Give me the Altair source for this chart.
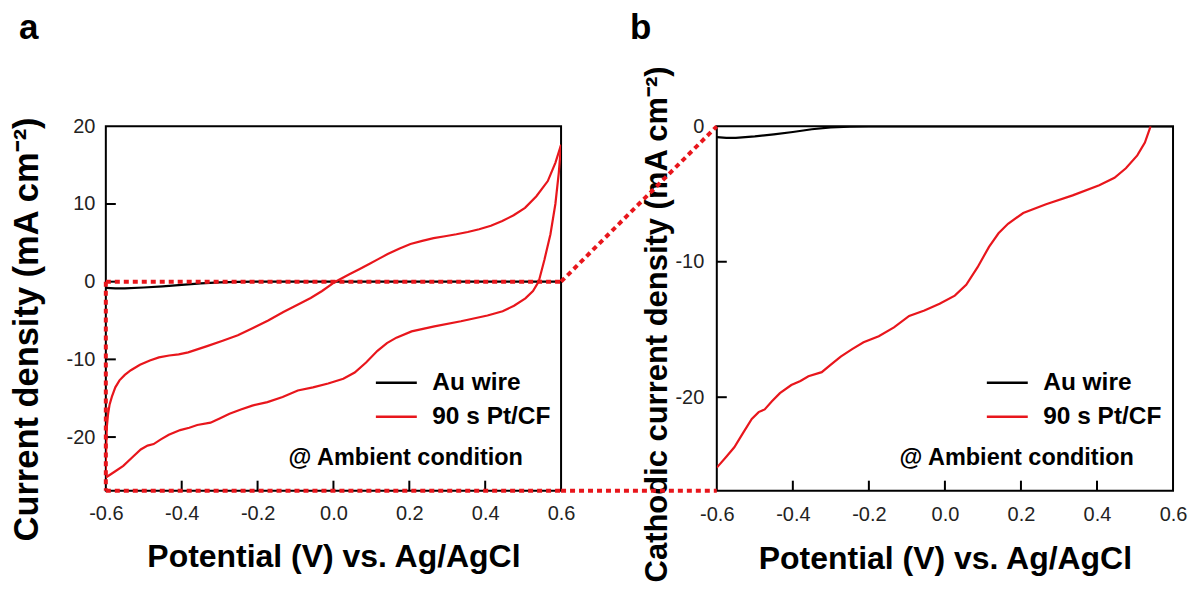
import altair as alt
import pandas as pd

# ---------------- data ----------------
# 90 s Pt/CF, cathodic-to-anodic (lower) branch
pot_lower = [-0.600, -0.575, -0.554, -0.530, -0.508, -0.490, -0.474, -0.455, -0.434, -0.404,
             -0.380, -0.359, -0.324, -0.300, -0.274, -0.244, -0.214, -0.174, -0.134, -0.094,
             -0.054, -0.014, 0.026, 0.056, 0.086, 0.116, 0.141, 0.166, 0.206, 0.266,
             0.336, 0.406, 0.446, 0.476, 0.506, 0.526, 0.541, 0.556, 0.572, 0.585,
             0.594, 0.600]
cur_lower = [-25.2, -24.4, -23.7, -22.6, -21.6, -21.1, -20.9, -20.3, -19.7, -19.1,
             -18.8, -18.45, -18.15, -17.6, -17.0, -16.45, -15.95, -15.5, -14.85, -14.0,
             -13.6, -13.1, -12.5, -11.7, -10.4, -8.9, -7.9, -7.2, -6.4, -5.75,
             -5.1, -4.35, -3.8, -3.1, -2.15, -1.2, 0.0, 2.8, 6.1, 10.0,
             14.0, 17.6]
# 90 s Pt/CF, return (upper) branch
pot_upper = [0.600, 0.585, 0.565, 0.535, 0.505, 0.475, 0.445, 0.415, 0.384, 0.354,
             0.324, 0.294, 0.264, 0.234, 0.203, 0.173, 0.143, 0.118, 0.093, 0.068,
             0.042, 0.005, -0.030, -0.060, -0.092, -0.132, -0.172, -0.212, -0.252, -0.292,
             -0.333, -0.383, -0.408, -0.433, -0.460, -0.484, -0.510, -0.534, -0.550, -0.564,
             -0.575, -0.584, -0.590, -0.594, -0.597, -0.598, -0.599, -0.600, -0.600]
cur_upper = [17.6, 15.3, 12.95, 11.0, 9.5, 8.55, 7.8, 7.2, 6.75, 6.4,
             6.1, 5.85, 5.6, 5.25, 4.85, 4.25, 3.55, 2.9, 2.25, 1.6,
             0.95, 0.0, -1.2, -2.1, -2.9, -3.9, -5.0, -5.95, -6.9, -7.6,
             -8.3, -9.1, -9.35, -9.5, -9.75, -10.15, -10.7, -11.4, -12.0, -12.7,
             -13.6, -14.8, -15.8, -17.0, -18.5, -19.5, -21.5, -23.5, -25.2]
# Au wire
pot_au = [-0.600, -0.575, -0.550, -0.500, -0.450, -0.400, -0.350, -0.300, -0.250, -0.200,
          0.000, 0.200, 0.400, 0.600]
cur_au = [-0.80, -0.85, -0.85, -0.75, -0.60, -0.42, -0.22, -0.08, -0.02, 0.0,
          0.0, 0.0, 0.0, 0.0]

SERIES = ["Au wire", "90 s Pt/CF"]
COLORS = ["#000000", "#e8161c"]
RED = "#e8161c"

X_TICKS = [-0.6, -0.4, -0.2, 0.0, 0.2, 0.4, 0.6]
X_INNER = [-0.4, -0.2, 0.0, 0.2, 0.4]
YA_TICKS = [20, 10, 0, -10, -20]
YA_INNER = [10, 0, -10, -20]
YB_TICKS = [0, -10, -20]
YB_INNER = [-10, -20]
X_DOM = [-0.6, 0.6]
YMIN = -26.9
YA_DOM = [YMIN, 20]
YB_DOM = [YMIN, 0]

X_TITLE = "Potential (V) vs. Ag/AgCl"
YA_TITLE = "Current density (mA cm⁻²)"
YB_TITLE = "Cathodic current density (mA cm⁻²)"
NOTE = "@ Ambient condition"

# ---------------- layout constants ----------------
WA, WB, H = 456, 457, 365
GAP = 156
TICK = 10
FONT = "Liberation Sans"

minus_fix = "replace(datum.label, '\u2212', '-')"


def table(pots, curs, series, branch):
    return pd.DataFrame({"potential": pots, "current": curs, "series": series,
                         "branch": branch, "i": list(range(len(pots)))})


df_a = pd.concat([
    table(pot_au, cur_au, "Au wire", "au"),
    table(pot_lower, cur_lower, "90 s Pt/CF", "lower"),
    table(pot_upper, cur_upper, "90 s Pt/CF", "upper"),
], ignore_index=True)

low_b = [(p, c) for p, c in zip(pot_lower, cur_lower) if c <= 0]
df_b = pd.concat([
    table(pot_au, cur_au, "Au wire", "au"),
    table([p for p, _ in low_b], [c for _, c in low_b], "90 s Pt/CF", "lower"),
], ignore_index=True)


def panel(df, w, ydom, yticks, yinner, ytitle, ytitle_size, title_pad, label_pad_y,
          title_y, xlab_pad, xtitle_pad, letter):
    xs = alt.Scale(domain=X_DOM, nice=False, zero=False)
    ys = alt.Scale(domain=ydom, nice=False, zero=False)
    xax = alt.Axis(values=X_TICKS, format=".1f", labelExpr=minus_fix,
                   title=X_TITLE, labelPadding=xlab_pad, titlePadding=xtitle_pad)
    yax = alt.Axis(values=yticks, format="d", labelExpr=minus_fix,
                   title=ytitle, titlePadding=title_pad, titleFontSize=ytitle_size,
                   labelPadding=label_pad_y, titleY=title_y)

    lines = alt.Chart(df).mark_line(strokeWidth=2.2, clip=True).encode(
        x=alt.X("potential:Q", scale=xs, axis=xax),
        y=alt.Y("current:Q", scale=ys, axis=yax),
        color=alt.Color("series:N", scale=alt.Scale(domain=SERIES, range=COLORS),
                        legend=alt.Legend(orient="none", legendX=269, legendY=235,
                                          title=None, symbolType="stroke",
                                          symbolSize=1681, symbolStrokeWidth=2.5,
                                          labelFontSize=24.5, labelFont=FONT,
                                          labelFontWeight="bold", labelColor="black",
                                          labelOffset=14, rowPadding=0, padding=0)),
        detail="branch:N",
        order="i:Q",
    )

    xt = alt.Chart(pd.DataFrame({"t": X_INNER})).mark_rule(
        color="black", strokeWidth=2).encode(
        x=alt.X("t:Q", scale=xs, axis=xax),
        y=alt.value(H), y2=alt.value(H - TICK))
    yt = alt.Chart(pd.DataFrame({"t": yinner})).mark_rule(
        color="black", strokeWidth=2).encode(
        y=alt.Y("t:Q", scale=ys, axis=yax),
        x=alt.value(0), x2=alt.value(TICK))

    one = pd.DataFrame({"k": [0]})
    note = alt.Chart(one).mark_text(
        align="left", baseline="middle", fontSize=23.5, font=FONT,
        fontWeight="bold", color="black").encode(
        x=alt.value(183), y=alt.value(332), text=alt.value(NOTE))
    lab = alt.Chart(one).mark_text(
        align="left", baseline="alphabetic", fontSize=35, font=FONT,
        fontWeight="bold", color="black").encode(
        x=alt.value(-87), y=alt.value(-87), text=alt.value(letter))

    return [lines, xt, yt, note, lab], xs, ys, xax, yax


layers_a, xs_a, ys_a, xax_a, yax_a = panel(df_a, WA, YA_DOM, YA_TICKS, YA_INNER, YA_TITLE,
                                           34.5, 22, 11, 203, 13, 18, "a")
layers_b, xs_b, ys_b, xax_b, yax_b = panel(df_b, WB, YB_DOM, YB_TICKS, YB_INNER, YB_TITLE,
                                           31, 1, 13, 198, 14, 19, "b")

# zoom box in panel a (edges of the region shown in panel b)
box = pd.DataFrame({"x0": [X_DOM[0], X_DOM[0], X_DOM[0]],
                    "x1": [X_DOM[1], X_DOM[0], X_DOM[1]],
                    "y0": [0, 0, YMIN], "y1": [0, YMIN, YMIN]})
zoom_box = alt.Chart(box).mark_rule(
    color=RED, strokeWidth=4, strokeDash=[5, 4]).encode(
    x=alt.X("x0:Q", scale=xs_a, axis=xax_a), x2="x1:Q",
    y=alt.Y("y0:Q", scale=ys_a, axis=yax_a), y2="y1:Q")

# connectors from panel a to panel b (drawn in panel b's frame)
y_zero_a = H * YA_DOM[1] / (YA_DOM[1] - YA_DOM[0])
one = pd.DataFrame({"k": [0]})
conn_top = alt.Chart(one).mark_rule(
    color=RED, strokeWidth=4, strokeDash=[5, 4]).encode(
    x=alt.value(-GAP), x2=alt.value(0), y=alt.value(y_zero_a), y2=alt.value(0))
conn_bot = alt.Chart(one).mark_rule(
    color=RED, strokeWidth=4, strokeDash=[5, 4]).encode(
    x=alt.value(-GAP), x2=alt.value(0), y=alt.value(H), y2=alt.value(H))

panel_a = alt.layer(*layers_a, zoom_box).properties(width=WA, height=H)
panel_b = alt.layer(*layers_b, conn_top, conn_bot).properties(width=WB, height=H)

chart = alt.hconcat(panel_a, panel_b, spacing=GAP, bounds="flush").resolve_scale(
    color="independent").resolve_legend(color="independent").properties(
    padding={"left": 0, "top": 2, "right": 0, "bottom": 0},
    background="white",
).configure_view(stroke="black", strokeWidth=2).configure_axis(
    grid=False, domain=False, ticks=False, tickSize=0,
    labelFont=FONT, labelFontSize=20, labelColor="#222222",
    labelFlush=False, labelOverlap=False,
    titleFont=FONT, titleFontWeight="bold", titleColor="black",
).configure_axisX(titleFontSize=32)

chart.save("out.html", embed_options={"renderer": "svg", "actions": False})
